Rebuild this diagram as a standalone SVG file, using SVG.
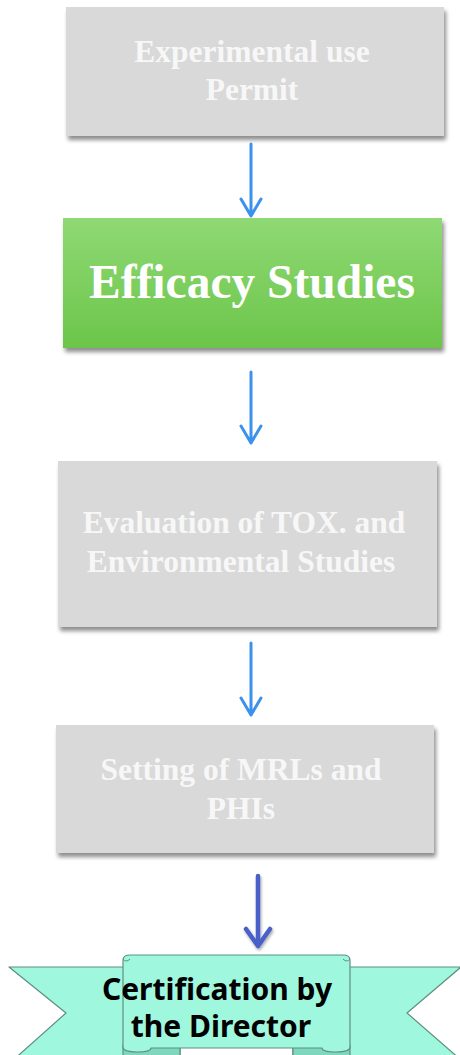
<svg xmlns="http://www.w3.org/2000/svg" width="460" height="1055" viewBox="0 0 460 1055">
<defs>
  <filter id="sh" x="-10%" y="-10%" width="125%" height="130%">
    <feGaussianBlur in="SourceAlpha" stdDeviation="2.2"/>
    <feOffset dx="2" dy="4" result="b"/>
    <feComponentTransfer><feFuncA type="linear" slope="0.45"/></feComponentTransfer>
    <feMerge><feMergeNode/><feMergeNode in="SourceGraphic"/></feMerge>
  </filter>
  <filter id="ash" filterUnits="userSpaceOnUse" x="230" y="860" width="60" height="100">
    <feGaussianBlur in="SourceAlpha" stdDeviation="1.5"/>
    <feOffset dx="1" dy="2" result="b"/>
    <feComponentTransfer><feFuncA type="linear" slope="0.35"/></feComponentTransfer>
    <feMerge><feMergeNode/><feMergeNode in="SourceGraphic"/></feMerge>
  </filter>
  <linearGradient id="green" x1="0" y1="0" x2="0" y2="1">
    <stop offset="0" stop-color="#8fd974"/>
    <stop offset="1" stop-color="#6cc54a"/>
  </linearGradient>
</defs>
<style>
  .gbox { fill: #d9d9d9; }
  .gtxt { font-family: "Liberation Serif", "Times New Roman", serif; font-weight: bold; fill: #f7f7f7; text-anchor: middle; font-size: 31.5px; }
  .conn { stroke: #3b92ec; stroke-width: 3; fill: none; stroke-linecap: round; stroke-linejoin: round; }
  .conn2 { stroke: #4a60c8; stroke-width: 4.5; fill: none; stroke-linecap: round; stroke-linejoin: round; }
  .rib { fill: #9ff7de; stroke: #5f8f80; stroke-width: 1.2; stroke-linejoin: round; }
  .fold { fill: #7fd7be; stroke: #5f8f80; stroke-width: 1.2; }
  .ctxt { font-family: "Noto Sans", "DejaVu Sans", sans-serif; font-weight: bold; fill: #000; text-anchor: middle; font-size: 30px; }
</style>
<rect width="460" height="1055" fill="#ffffff"/>

<g id="connectors">
  <path class="conn" d="M251,144 L251,216 M241,199 L251,216 L261,199"/>
  <path class="conn" d="M251,372 L251,443 M241,426 L251,443 L261,426"/>
  <path class="conn" d="M251,643 L251,715 M241,698 L251,715 L261,698"/>
  <path class="conn2" d="M258,876 L258,946 M246,929 L258,946 L270,929" filter="url(#ash)"/>
</g>

<g id="node-permit">
  <rect class="gbox" x="66" y="7" width="378" height="129" filter="url(#sh)"/>
  <text class="gtxt" x="252" y="62">Experimental use</text>
  <text class="gtxt" x="252" y="100">Permit</text>
</g>

<g id="node-efficacy">
  <rect x="63" y="218" width="379" height="130" fill="url(#green)" filter="url(#sh)"/>
  <text class="gtxt" x="252" y="298" style="font-size:47.5px;fill:#ffffff">Efficacy Studies</text>
</g>

<g id="node-evaluation">
  <rect class="gbox" x="58" y="461" width="379" height="166" filter="url(#sh)"/>
  <text class="gtxt" x="244" y="533">Evaluation of TOX. and</text>
  <text class="gtxt" x="241" y="572">Environmental Studies</text>
</g>

<g id="node-mrl">
  <rect class="gbox" x="56" y="725" width="378" height="128" filter="url(#sh)"/>
  <text class="gtxt" x="241" y="780">Setting of MRLs and</text>
  <text class="gtxt" x="241" y="819">PHIs</text>
</g>

<g id="node-certification">
  <path class="rib" d="M9,967 L180,967 L180,1062 L11,1062 L66,1013 Z"/>
  <path class="rib" d="M293,967 L461,967 L407,1013 L461,1060 L293,1060 Z"/>
  <path class="fold" d="M123,1045 L123,1060 L180,1060 L180,1045 Z"/>
  <path class="fold" d="M293,1045 L293,1060 L350,1060 L350,1045 Z"/>
  <path class="rib" d="M123,1047 L123,960 Q123,955 130,955 L343,955 Q350,955 350,960 L350,1047 Q350,1052 336,1052 Q322,1052 322,1048 L151,1048 Q151,1052 137,1052 Q123,1052 123,1047 Z"/>
  <path d="M123,959 Q126,963 130,959" fill="none" stroke="#5f8f80" stroke-width="1"/>
  <path d="M343,959 Q347,963 350,959" fill="none" stroke="#5f8f80" stroke-width="1"/>
  <text class="ctxt" x="217" y="1000">Certification by</text>
  <text class="ctxt" x="221" y="1037">the Director</text>
</g>
</svg>
